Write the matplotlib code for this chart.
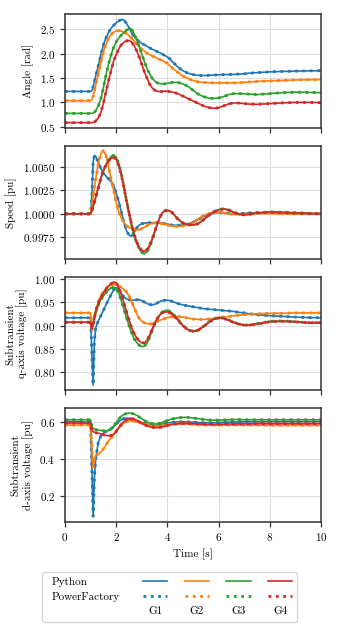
import numpy as np
import matplotlib
matplotlib.use("Agg")
import matplotlib.pyplot as plt
from matplotlib.lines import Line2D
from matplotlib.text import Text
from matplotlib.legend_handler import HandlerBase

plt.rcParams["font.family"] = "serif"
plt.rcParams["font.serif"] = ["cmr10"]
plt.rcParams["mathtext.fontset"] = "cm"
plt.rcParams["axes.formatter.use_mathtext"] = True
plt.rcParams["font.size"] = 8

# time grid [s]
time = [0.0, 1.0, 1.05, 1.1, 1.15, 1.2, 1.3, 1.4, 1.5, 1.6, 1.7, 1.8, 1.9, 2.0,
        2.1, 2.2, 2.3, 2.4, 2.5, 2.6, 2.7, 2.8, 2.9, 3.0, 3.1, 3.2, 3.3, 3.4,
        3.5, 3.6, 3.7, 3.8, 3.9, 4.0, 4.1, 4.2, 4.4, 4.6, 4.8, 5.0, 5.2, 5.4,
        5.6, 5.8, 6.0, 6.2, 6.4, 6.6, 6.8, 7.0, 7.2, 7.5, 8.0, 8.5, 9.0, 9.5, 10.0]

# rotor angle [rad]
angle_g1 = [1.225, 1.225, 1.24, 1.32, 1.43, 1.54, 1.75, 1.97, 2.18, 2.32, 2.43, 2.52, 2.58, 2.63,
            2.67, 2.70, 2.69, 2.62, 2.53, 2.43, 2.35, 2.29, 2.25, 2.21, 2.18, 2.15, 2.12, 2.09,
            2.07, 2.04, 2.02, 1.99, 1.96, 1.93, 1.89, 1.83, 1.73, 1.65, 1.60, 1.57, 1.555, 1.55,
            1.555, 1.56, 1.565, 1.57, 1.57, 1.575, 1.58, 1.585, 1.60, 1.61, 1.625, 1.635, 1.64, 1.645, 1.65]
angle_g2 = [1.035, 1.035, 1.05, 1.12, 1.23, 1.36, 1.58, 1.82, 2.03, 2.19, 2.31, 2.39, 2.44, 2.465,
            2.47, 2.46, 2.44, 2.41, 2.37, 2.32, 2.26, 2.20, 2.14, 2.09, 2.05, 2.01, 1.98, 1.95,
            1.93, 1.90, 1.88, 1.86, 1.83, 1.80, 1.75, 1.70, 1.62, 1.54, 1.49, 1.45, 1.42, 1.41,
            1.405, 1.40, 1.40, 1.40, 1.40, 1.40, 1.405, 1.41, 1.42, 1.43, 1.44, 1.45, 1.46, 1.465, 1.47]
angle_g3 = [0.775, 0.775, 0.776, 0.78, 0.80, 0.83, 0.93, 1.07, 1.30, 1.56, 1.78, 1.97, 2.13, 2.24,
            2.32, 2.38, 2.43, 2.48, 2.51, 2.50, 2.41, 2.29, 2.14, 1.99, 1.84, 1.70, 1.59, 1.50,
            1.44, 1.40, 1.385, 1.38, 1.38, 1.39, 1.40, 1.41, 1.41, 1.38, 1.33, 1.25, 1.17, 1.12,
            1.09, 1.08, 1.09, 1.12, 1.16, 1.18, 1.18, 1.175, 1.17, 1.16, 1.18, 1.20, 1.21, 1.205, 1.20]
angle_g4 = [0.585, 0.585, 0.585, 0.59, 0.60, 0.62, 0.68, 0.79, 0.98, 1.22, 1.44, 1.65, 1.85, 1.98,
            2.10, 2.18, 2.23, 2.26, 2.27, 2.24, 2.16, 2.06, 1.93, 1.78, 1.63, 1.50, 1.38, 1.30,
            1.25, 1.23, 1.22, 1.225, 1.23, 1.23, 1.22, 1.21, 1.18, 1.13, 1.08, 1.03, 0.98, 0.93,
            0.895, 0.88, 0.89, 0.93, 0.97, 0.99, 0.985, 0.975, 0.965, 0.96, 0.975, 0.99, 1.00, 1.00, 0.995]

# rotor speed [pu]
speed_g1 = [1.0, 1.0, 1.0020, 1.0055, 1.0062, 1.0061, 1.0055, 1.0048, 1.0043, 1.0040, 1.0037, 1.0034, 1.0030, 1.0022,
            1.0013, 1.0002, 0.9991, 0.9982, 0.99775, 0.99760, 0.99800, 0.99850, 0.99880, 0.99895, 0.99900, 0.99905, 0.99905, 0.99905,
            0.99905, 0.99905, 0.99900, 0.99900, 0.99895, 0.99890, 0.99885, 0.99880, 0.99878, 0.99880, 0.99893, 0.99910, 0.99940, 0.99970,
            0.99995, 1.0001, 1.00015, 1.0001, 1.00005, 1.0, 1.0, 1.00005, 1.0001, 1.0001, 1.0001, 1.00005, 1.0, 1.0, 1.0]
speed_g2 = [1.0, 1.0, 1.0008, 1.0018, 1.0028, 1.0037, 1.0053, 1.0064, 1.0067, 1.0062, 1.0050, 1.0037, 1.0025, 1.0012,
            1.0002, 0.99955, 0.9991, 0.99875, 0.99855, 0.99845, 0.99835, 0.9983, 0.9983, 0.99845, 0.9986, 0.99875, 0.99890, 0.99900,
            0.99903, 0.99903, 0.99900, 0.99895, 0.99890, 0.99882, 0.99875, 0.99870, 0.99867, 0.99870, 0.99885, 0.99905, 0.99945, 0.99980,
            1.0, 1.00012, 1.00015, 1.0001, 1.0, 0.99995, 0.99995, 1.0, 1.0, 1.00005, 1.00005, 1.0, 1.0, 1.0, 1.0]
speed_g3 = [1.0, 1.0, 1.0003, 1.0008, 1.0012, 1.0017, 1.0027, 1.0037, 1.0045, 1.0052, 1.0057, 1.0061, 1.0062, 1.0060,
            1.0053, 1.0043, 1.0029, 1.0015, 1.0001, 0.9988, 0.99775, 0.9969, 0.9963, 0.99590, 0.99575, 0.99595, 0.99645, 0.99715,
            0.99800, 0.99885, 0.99960, 1.0001, 1.00035, 1.0004, 1.0003, 1.0001, 0.99945, 0.99900, 0.99885, 0.99880, 0.99895, 0.99935,
            0.99980, 1.0002, 1.00045, 1.00055, 1.0004, 1.00015, 0.99995, 0.99988, 0.99995, 1.0001, 1.0002, 1.00015, 1.0001, 1.00005, 1.0]
speed_g4 = [1.0, 1.0, 1.0003, 1.0008, 1.0013, 1.0018, 1.0028, 1.0038, 1.0046, 1.0052, 1.0056, 1.0059, 1.0060, 1.0058,
            1.0051, 1.0041, 1.0028, 1.0014, 1.0001, 0.9989, 0.99785, 0.9970, 0.99645, 0.99610, 0.99600, 0.99620, 0.99665, 0.99730,
            0.99810, 0.99890, 0.99960, 1.0001, 1.0003, 1.00035, 1.0003, 1.0001, 0.99948, 0.99905, 0.99885, 0.99882, 0.99895, 0.99935,
            0.99980, 1.0002, 1.00042, 1.0005, 1.0004, 1.00015, 0.99998, 0.9999, 0.99995, 1.0001, 1.00018, 1.00015, 1.0001, 1.00005, 1.0]

# subtransient q-axis voltage [pu]
vq_g1 = [0.9165, 0.9165, 0.84, 0.773, 0.868, 0.895, 0.910, 0.921, 0.932, 0.944, 0.955, 0.966, 0.976, 0.981,
         0.978, 0.968, 0.961, 0.957, 0.955, 0.954, 0.954, 0.955, 0.955, 0.953, 0.950, 0.947, 0.945, 0.944,
         0.945, 0.948, 0.951, 0.953, 0.954, 0.954, 0.953, 0.951, 0.947, 0.944, 0.942, 0.940, 0.938, 0.936,
         0.935, 0.934, 0.933, 0.932, 0.931, 0.930, 0.928, 0.927, 0.925, 0.923, 0.921, 0.9195, 0.918, 0.917, 0.9165]
vq_g2 = [0.927, 0.927, 0.889, 0.900, 0.915, 0.930, 0.950, 0.963, 0.972, 0.979, 0.984, 0.987, 0.988, 0.987,
         0.985, 0.981, 0.977, 0.972, 0.963, 0.951, 0.938, 0.925, 0.915, 0.909, 0.906, 0.904, 0.903, 0.904,
         0.906, 0.909, 0.911, 0.913, 0.915, 0.917, 0.918, 0.919, 0.919, 0.918, 0.916, 0.914, 0.913, 0.913,
         0.914, 0.915, 0.917, 0.918, 0.919, 0.921, 0.922, 0.923, 0.924, 0.925, 0.926, 0.926, 0.927, 0.927, 0.927]
vq_g3 = [0.907, 0.907, 0.898, 0.905, 0.918, 0.928, 0.944, 0.955, 0.963, 0.970, 0.976, 0.980, 0.982, 0.979,
         0.969, 0.953, 0.935, 0.917, 0.900, 0.885, 0.872, 0.864, 0.858, 0.855, 0.856, 0.862, 0.874, 0.888,
         0.902, 0.914, 0.923, 0.929, 0.932, 0.932, 0.930, 0.926, 0.914, 0.900, 0.891, 0.887, 0.890, 0.898,
         0.907, 0.914, 0.917, 0.916, 0.912, 0.907, 0.903, 0.901, 0.901, 0.904, 0.909, 0.910, 0.908, 0.906, 0.906]
vq_g4 = [0.907, 0.907, 0.893, 0.902, 0.917, 0.930, 0.948, 0.960, 0.969, 0.977, 0.984, 0.989, 0.993, 0.991,
         0.981, 0.966, 0.949, 0.930, 0.912, 0.896, 0.883, 0.874, 0.867, 0.863, 0.863, 0.868, 0.879, 0.892,
         0.905, 0.915, 0.922, 0.927, 0.929, 0.929, 0.927, 0.923, 0.912, 0.900, 0.891, 0.888, 0.890, 0.897,
         0.906, 0.913, 0.916, 0.915, 0.911, 0.906, 0.903, 0.901, 0.901, 0.903, 0.908, 0.909, 0.908, 0.906, 0.906]

# subtransient d-axis voltage [pu]
vd_g1 = [0.604, 0.60, 0.35, 0.088, 0.30, 0.40, 0.49, 0.525, 0.54, 0.55, 0.558, 0.565, 0.575, 0.59,
         0.603, 0.613, 0.62, 0.622, 0.62, 0.617, 0.612, 0.607, 0.602, 0.597, 0.593, 0.589, 0.586, 0.584,
         0.583, 0.584, 0.586, 0.589, 0.592, 0.595, 0.597, 0.599, 0.601, 0.602, 0.601, 0.600, 0.598, 0.597,
         0.597, 0.597, 0.598, 0.599, 0.600, 0.601, 0.601, 0.602, 0.602, 0.602, 0.603, 0.603, 0.603, 0.603, 0.603]
vd_g2 = [0.584, 0.584, 0.46, 0.355, 0.40, 0.42, 0.427, 0.437, 0.455, 0.477, 0.497, 0.515, 0.532, 0.550,
         0.567, 0.583, 0.595, 0.603, 0.607, 0.607, 0.605, 0.602, 0.598, 0.594, 0.590, 0.586, 0.582, 0.579,
         0.578, 0.578, 0.579, 0.581, 0.584, 0.586, 0.588, 0.589, 0.591, 0.591, 0.590, 0.588, 0.586, 0.585,
         0.584, 0.584, 0.584, 0.584, 0.584, 0.584, 0.584, 0.584, 0.584, 0.584, 0.583, 0.583, 0.583, 0.583, 0.583]
vd_g3 = [0.613, 0.613, 0.575, 0.565, 0.562, 0.560, 0.557, 0.555, 0.553, 0.552, 0.554, 0.562, 0.578, 0.598,
         0.617, 0.632, 0.642, 0.647, 0.649, 0.648, 0.644, 0.637, 0.628, 0.618, 0.609, 0.601, 0.596, 0.592,
         0.590, 0.591, 0.594, 0.599, 0.604, 0.609, 0.614, 0.618, 0.623, 0.626, 0.626, 0.623, 0.619, 0.615,
         0.612, 0.611, 0.611, 0.612, 0.613, 0.614, 0.614, 0.613, 0.613, 0.613, 0.613, 0.613, 0.613, 0.613, 0.613]
vd_g4 = [0.595, 0.595, 0.56, 0.548, 0.545, 0.543, 0.540, 0.536, 0.532, 0.528, 0.526, 0.527, 0.535, 0.550,
         0.570, 0.588, 0.603, 0.613, 0.618, 0.619, 0.616, 0.610, 0.602, 0.594, 0.586, 0.580, 0.575, 0.572,
         0.570, 0.570, 0.571, 0.574, 0.578, 0.582, 0.585, 0.588, 0.591, 0.593, 0.593, 0.592, 0.590, 0.589,
         0.588, 0.588, 0.588, 0.589, 0.590, 0.590, 0.591, 0.591, 0.591, 0.592, 0.592, 0.592, 0.592, 0.592, 0.592]

gen_names = ["G1", "G2", "G3", "G4"]
colors = ["#1f77b4", "#ff7f0e", "#2ca02c", "#d62728"]

panels = [
    ("Angle [rad]", [angle_g1, angle_g2, angle_g3, angle_g4]),
    ("Speed [pu]", [speed_g1, speed_g2, speed_g3, speed_g4]),
    ("Subtransient\nq-axis voltage [pu]", [vq_g1, vq_g2, vq_g3, vq_g4]),
    ("Subtransient\nd-axis voltage [pu]", [vd_g1, vd_g2, vd_g3, vd_g4]),
]

fig, axes = plt.subplots(4, 1, figsize=(3.39, 6.29), dpi=100, sharex=True)
fig.subplots_adjust(left=0.1917, right=0.9469, top=0.9773, bottom=0.1709, hspace=0.156)

for ax, (ylabel, series) in zip(axes, panels):
    for vals, c in zip(series, colors):
        ax.plot(time, vals, color=c, lw=1.2)
        ax.plot(time, vals, color=c, lw=2.0, ls=":")
    ax.set_ylabel(ylabel)
    ax.grid(True, color="#dddddd", lw=0.8)
    ax.set_axisbelow(True)
    for s in ax.spines.values():
        s.set_color("#333333")
        s.set_linewidth(1.1)
    ax.tick_params(colors="#333333", labelcolor="black", length=3.5, width=0.9)
    ax.ticklabel_format(axis="y", useOffset=False)

axes[0].set_yticks([0.5, 1.0, 1.5, 2.0, 2.5])
axes[1].set_yticks([0.9975, 1.0, 1.0025, 1.005])
axes[2].set_yticks([0.80, 0.85, 0.90, 0.95, 1.00])
axes[3].set_yticks([0.2, 0.4, 0.6])
axes[-1].set_xlim(0, 10)
axes[-1].set_xticks([0, 2, 4, 6, 8, 10])
axes[-1].set_xlabel("Time [s]")


# legend: generator names drawn centred in the handle slot
class TextHandle:
    def __init__(self, text):
        self.text = text


class HandlerText(HandlerBase):
    def create_artists(self, legend, orig_handle, xdescent, ydescent, width, height, fontsize, trans):
        t = Text(-xdescent + width / 2, -ydescent + height / 2, orig_handle.text, ha="center",
                 va="center", fontsize=fontsize, transform=trans, family="serif")
        return [t]


blank = Line2D([], [], color="none")
handles = [blank, blank, blank]
labels = ["Python", "PowerFactory", ""]
for name, c in zip(gen_names, colors):
    handles += [Line2D([], [], color=c, lw=1.2), Line2D([], [], color=c, lw=2.0, ls=":"),
                TextHandle(name)]
    labels += ["", "", ""]

leg = fig.legend(handles, labels, loc="lower center", bbox_to_anchor=(0.5, 0.0107), ncol=5,
                 handler_map={TextHandle: HandlerText()}, handlelength=2.2, handletextpad=0.0,
                 columnspacing=1.55, borderaxespad=0.0, borderpad=0.4, labelspacing=0.5)
# first column has no handle: shrink its handle slot, and keep a bit more room after the text
fig.canvas.draw()
first_col = leg._legend_handle_box.get_children()[0]
rows = first_col.get_children()
for row in rows:
    row.get_children()[0].width = 3.3
text_w = leg.get_texts()[1].get_window_extent().width * 72.0 / fig.dpi
rows[2].get_children()[0].width = 3.3 + text_w + 4.5

fig.savefig("out.png", dpi=100)
